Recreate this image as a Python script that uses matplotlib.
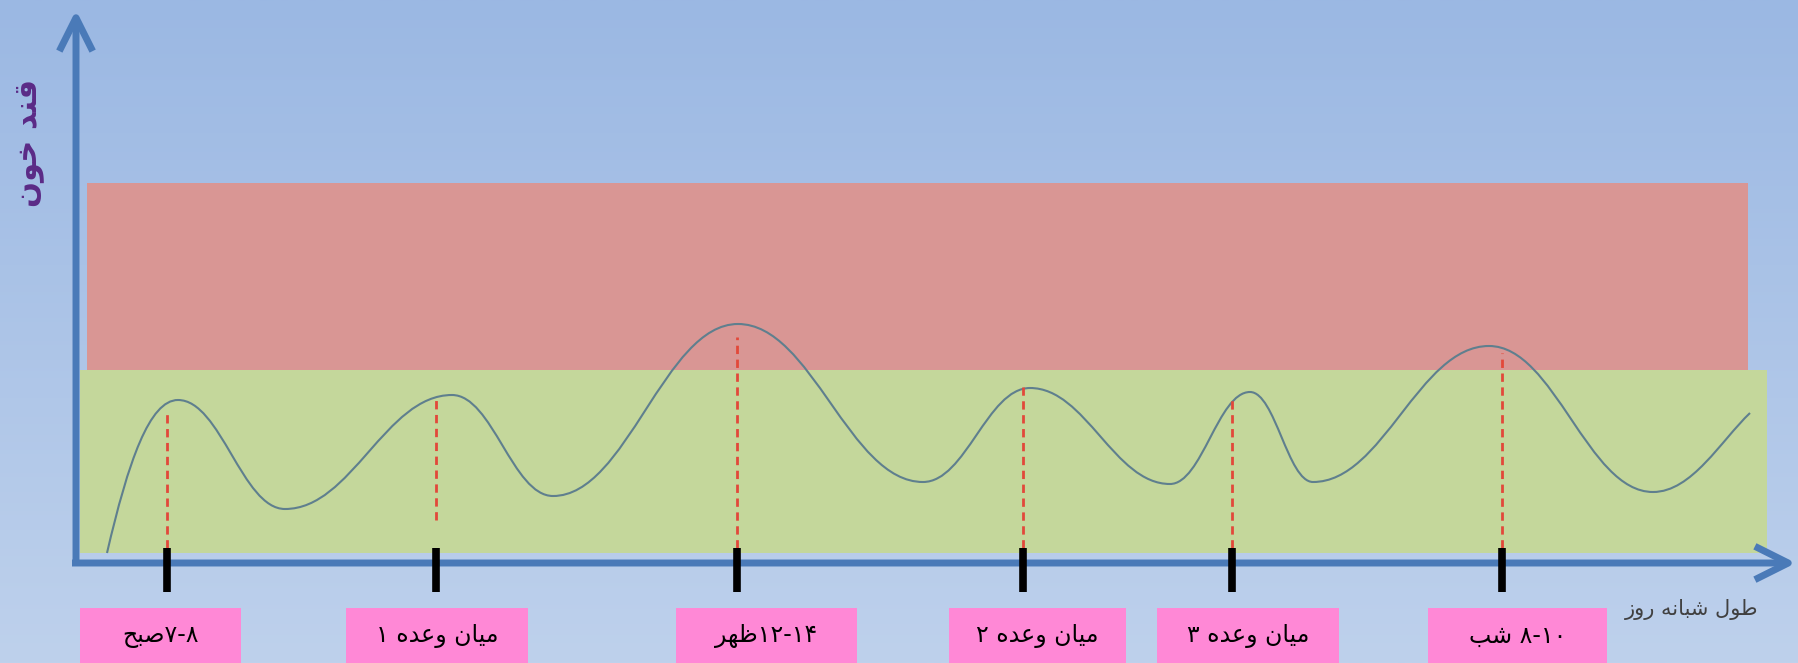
import re
import numpy as np
import matplotlib
matplotlib.use('Agg')
import matplotlib.pyplot as plt
from matplotlib.colors import LinearSegmentedColormap
from matplotlib.patches import Rectangle, PathPatch
from matplotlib.path import Path

# chart units: x = position along the day (0..1799), y = blood sugar level (0..663)
meal_labels = ["۷-۸صبح", "میان وعده ۱", "۱۲-۱۴ظهر", "میان وعده ۲", "میان وعده ۳", "۸-۱۰ شب"]
meal_x = [167, 436, 737, 1023, 1232, 1502]
meal_level = [251, 265, 326, 276, 267, 310]   # where the red guide meets the curve
guide_low = [115, 143, 115, 115, 115, 115]

# blood sugar curve (start, turning points, end)
curve_x = [107, 178, 285, 452, 553, 738, 923, 1030, 1170, 1250, 1313, 1489, 1653, 1750]
curve_y = [110, 263, 154, 268, 167, 339, 181, 275, 179, 271, 181, 317, 171, 250]

normal_band = (110, 293)
high_band = (293, 480)

y_title = "قند خون"
x_title = "طول شبانه روز"

# label boxes under the axis (left, right)
box_span = [(80, 241), (346, 528), (676, 857), (949, 1126), (1157, 1339), (1428, 1607)]

FORMS = {
    'ا': ('\uFE8D', '\uFE8E', None, None),
    'ب': ('\uFE8F', '\uFE90', '\uFE91', '\uFE92'),
    'ح': ('\uFEA1', '\uFEA2', '\uFEA3', '\uFEA4'),
    'خ': ('\uFEA5', '\uFEA6', '\uFEA7', '\uFEA8'),
    'د': ('\uFEA9', '\uFEAA', None, None),
    'ر': ('\uFEAD', '\uFEAE', None, None),
    'ز': ('\uFEAF', '\uFEB0', None, None),
    'ش': ('\uFEB5', '\uFEB6', '\uFEB7', '\uFEB8'),
    'ص': ('\uFEB9', '\uFEBA', '\uFEBB', '\uFEBC'),
    'ط': ('\uFEC1', '\uFEC2', '\uFEC3', '\uFEC4'),
    'ظ': ('\uFEC5', '\uFEC6', '\uFEC7', '\uFEC8'),
    'ع': ('\uFEC9', '\uFECA', '\uFECB', '\uFECC'),
    'ق': ('\uFED5', '\uFED6', '\uFED7', '\uFED8'),
    'ل': ('\uFEDD', '\uFEDE', '\uFEDF', '\uFEE0'),
    'م': ('\uFEE1', '\uFEE2', '\uFEE3', '\uFEE4'),
    'ن': ('\uFEE5', '\uFEE6', '\uFEE7', '\uFEE8'),
    'ه': ('\uFEE9', '\uFEEA', '\uFEEB', '\uFEEC'),
    'و': ('\uFEED', '\uFEEE', None, None),
    '\u06CC': ('\uFBFC', '\uFBFD', '\uFEF3', '\uFEF4'),
}


def normalize(s):
    s = s.replace('\u064A', '\u06CC')
    return ''.join(chr(ord(c) + 0x90) if '\u0660' <= c <= '\u0669' else c for c in s)


def shape_word(w):
    out = []
    for i, c in enumerate(w):
        iso, fin, ini, med = FORMS[c]
        prev_j = i > 0 and FORMS[w[i - 1]][2] is not None
        next_j = i < len(w) - 1 and ini is not None
        if prev_j and next_j:
            out.append(med)
        elif prev_j:
            out.append(fin)
        elif next_j:
            out.append(ini)
        else:
            out.append(iso)
    return ''.join(reversed(out))


TOKENS = re.compile('[' + ''.join(FORMS) + ']+|[\u06F0-\u06F9][\u06F0-\u06F9\\-]*|.')


def rtl(s):
    # simple right-to-left layout: words shaped, number runs kept left-to-right
    tokens = TOKENS.findall(normalize(s))
    return ''.join(shape_word(t) if t[0] in FORMS else t for t in reversed(tokens))


W, H = 1799, 663
fig = plt.figure(figsize=(W / 100, H / 100), dpi=100)
ax = fig.add_axes([0, 0, 1, 1])
ax.set_xlim(0, W)
ax.set_ylim(0, H)
ax.axis('off')

bg = LinearSegmentedColormap.from_list('bg', ['#BED1EC', '#9BB8E3'])
ax.imshow(np.linspace(0, 1, 256).reshape(-1, 1), cmap=bg, origin='lower',
          extent=(0, W, 0, H), aspect='auto', zorder=0)

ax.add_patch(Rectangle((87, high_band[0]), 1748 - 87, high_band[1] - high_band[0],
                       facecolor='#D99694', edgecolor='none', zorder=1))
ax.add_patch(Rectangle((80, normal_band[0]), 1767 - 80, normal_band[1] - normal_band[0],
                       facecolor='#C4D79B', edgecolor='none', zorder=1))

# smooth curve through the turning points (cubic bezier, flat at the peaks)
verts = [(curve_x[0], curve_y[0])]
codes = [Path.MOVETO]
n = len(curve_x)
for i in range(n - 1):
    x0, y0, x1, y1 = curve_x[i], curve_y[i], curve_x[i + 1], curve_y[i + 1]
    dx, dy = x1 - x0, y1 - y0
    c1 = (x0 + 0.4 * dx, y0)
    c2 = (x1 - 0.4 * dx, y1)
    if i == 0:
        c1 = (x0 + 0.3 * dx, y0 + 0.6 * dy)
    if i == n - 2:
        c2 = (x1 - 0.3 * dx, y1 - 0.35 * dy)
    verts += [c1, c2, (x1, y1)]
    codes += [Path.CURVE4] * 3
ax.add_patch(PathPatch(Path(verts, codes), facecolor='none', edgecolor='#5F7F8E',
                       lw=1.5, zorder=3))

# red guides from the curve down to the meal ticks
for x, top, low in zip(meal_x, meal_level, guide_low):
    ax.plot([x, x], [low, top], color='#E2483A', lw=2, ls=(0, (3, 2)), zorder=4)

axis_col = '#4A7AB8'
arrow = dict(arrowstyle='->,head_length=1.2,head_width=0.6', lw=5, color=axis_col,
             shrinkA=0, shrinkB=0, mutation_scale=20, capstyle='butt')
ax.annotate('', xy=(76, 653), xytext=(76, 97), arrowprops=arrow, zorder=5)
ax.annotate('', xy=(1796, 100), xytext=(72, 100), arrowprops=arrow, zorder=5)

ax.vlines(meal_x, 71, 115, colors='black', lw=5.5, zorder=6)

for (l, r), lab in zip(box_span, meal_labels):
    ax.add_patch(Rectangle((l, -10), r - l, 65, facecolor='#FF88D6', edgecolor='none', zorder=2))
    ax.text((l + r) / 2, 27, rtl(lab), ha='center', va='center',
            fontsize=17, color='black', family=['DejaVu Sans'], zorder=7)

ax.text(1692, 54, rtl(x_title), ha='center', va='center', fontsize=15,
        color='#404040', family=['DejaVu Sans'])
ax.text(30, 520, rtl(y_title), ha='center', va='center', rotation=90, fontsize=22,
        fontweight='bold', color='#5B2A86', family=['DejaVu Sans'])

fig.savefig('out.png', dpi=100)
